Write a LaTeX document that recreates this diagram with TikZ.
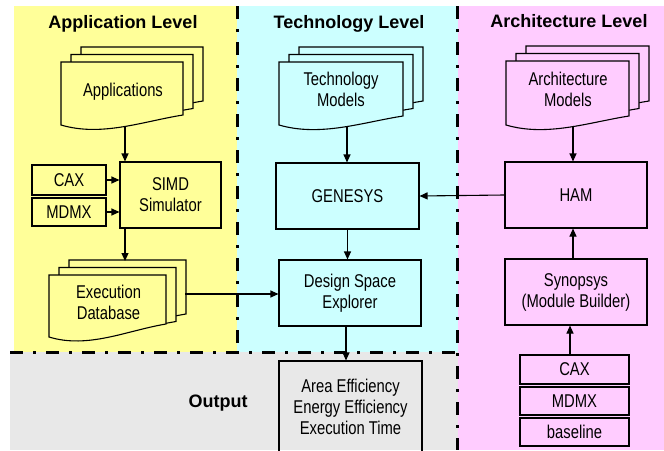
\documentclass[tikz,border=0pt]{standalone}
\usepackage{fontspec}
\usetikzlibrary{arrows.meta}
\newfontfamily\lblfont[FakeStretch=0.8]{Liberation Sans}
\newfontfamily\headfont{Liberation Sans}
\definecolor{appyellow}{RGB}{255,255,153}
\definecolor{techcyan}{RGB}{204,255,255}
\definecolor{archpink}{RGB}{255,204,255}
\definecolor{outgray}{RGB}{232,232,232}

% one document sheet: x, top y, width, left height, right height, fill
\newcommand{\docsheet}[6]{%
  \filldraw[docline,fill=#6] (#1,#2) -- ({#1+#3},#2) -- ({#1+#3},{#2+#5})
    .. controls ({#1+2*#3/3},{#2+#5+6.5}) and ({#1+#3/3},{#2+#4+12}) .. (#1,{#2+#4}) -- cycle;}
% a stack of three sheets: x, top y, width, left height, front right height, back right height, fill
\newcommand{\docstack}[7]{%
  \docsheet{#1+20}{#2-15}{#3}{#4}{#6}{#7}
  \docsheet{#1+10}{#2-7.5}{#3}{#4}{#6}{#7}
  \docsheet{#1}{#2}{#3}{#4}{#5}{#7}}

\begin{document}
\begin{tikzpicture}[x=1pt,y=-1pt,
  docline/.style={draw=black,line width=1.1pt},
  lbl/.style={font=\fontsize{18.5}{21}\lblfont,align=center,inner sep=0pt},
  box/.style={draw=black,line width=1.1pt,font=\fontsize{18.5}{21}\lblfont,align=center,inner sep=0pt},
  head/.style={font=\fontsize{18}{20}\headfont\bfseries,inner sep=0pt,anchor=base},
  divider/.style={line width=3pt,dash pattern=on 13pt off 10pt on 3pt off 10pt},
  arr/.style={draw=black,line width=1.1pt,-{Triangle[length=8pt,width=7pt]}}]
\useasboundingbox (0,0) rectangle (664,450);

% level backgrounds
\fill[appyellow] (14,6) rectangle (237,352);
\fill[techcyan] (237,6) rectangle (458,352);
\fill[archpink] (458,6) rectangle (664,450);
\fill[outgray] (10,352) rectangle (458,450);

% dash-dot dividers
\draw[divider] (237,6) -- (237,352);
\draw[divider] (457,6) -- (457,450);
\draw[divider] (10,352) -- (457,352);

% level titles
\node[head] (applevel) at (123,28) {Application Level};
\node[head] (techlevel) at (349,28.5) {Technology Level};
\node[head] (archlevel) at (569,27.5) {Architecture Level};
\node[head] (outlabel) at (218,407.3) {Output};

% document stacks
\docstack{61}{62}{122}{63}{53}{54}{appyellow}
\docstack{49}{275}{117}{62}{49}{54}{appyellow}
\docstack{279}{62}{124}{63}{54}{54}{techcyan}
\docstack{506}{61}{123}{64}{55}{55}{archpink}

\node[lbl,anchor=base] (apps) at (123,96) {Applications};
\node[lbl] (techm) at (341,89.1) {Technology\\Models};
\node[lbl] (archm) at (568,89.3) {Architecture\\Models};
\node[lbl] (execdb) at (108.5,302.5) {Execution\\Database};

\coordinate (appsout) at (125,127);
\coordinate (dbin) at (125,261);
\coordinate (dbout) at (185,294);
\coordinate (techout) at (347,125.5);
\coordinate (archout) at (573,125.5);

% boxes
\node[box,minimum width=101pt,minimum height=66pt] (simd) at (170.5,195) {SIMD\\Simulator};
\node[box,minimum width=74pt,minimum height=30pt] (caxl) at (69,180) {CAX};
\node[box,minimum width=74pt,minimum height=28pt] (mdmxl) at (69,212) {MDMX};
\node[box,minimum width=143pt,minimum height=66pt] (genesys) at (347.5,196) {GENESYS};
\node[box,minimum width=142pt,minimum height=66pt] (dse) at (350,293) {Design Space\\Explorer};
\node[box,minimum width=143pt,minimum height=91pt] (outbox) at (350.5,406.5) {Area Efficiency\\Energy Efficiency\\Execution Time};
\node[box,minimum width=142pt,minimum height=66pt] (ham) at (576,195) {HAM};
\node[box,minimum width=142pt,minimum height=66pt] (syn) at (576,292) {Synopsys\\(Module Builder)};
\node[box,minimum width=109pt,minimum height=29pt] (caxr) at (574.5,369.5) {CAX};
\node[box,minimum width=109pt,minimum height=28pt] (mdmxr) at (574.5,401) {MDMX};
\node[box,minimum width=109pt,minimum height=28pt] (basel) at (574.5,432) {baseline};

% connectors
\draw[arr] (appsout) -- (appsout |- simd.north);
\draw[arr] (caxl.east) -- (caxl.east -| simd.west);
\draw[arr] (mdmxl.east) -- (mdmxl.east -| simd.west);
\draw[arr] (simd.south -| dbin) -- (dbin);
\draw[arr] (dbout) -- (dbout -| dse.west);
\draw[arr] (techout) -- (techout |- genesys.north);
\draw[arr] (genesys.south) -- (genesys.south |- dse.north);
\draw[arr] ([xshift=-4pt]dse.south) -- ([xshift=-4pt]dse.south |- outbox.north);
\draw[arr] (archout) -- (archout |- ham.north);
\draw[arr] (ham.west) -- (genesys.east);
\draw[arr] ([xshift=-3pt]syn.north) -- ([xshift=-3pt]ham.south);
\draw[arr] ([xshift=-4.5pt]caxr.north) -- ([xshift=-4.5pt]caxr.north |- syn.south);
\end{tikzpicture}
\end{document}
